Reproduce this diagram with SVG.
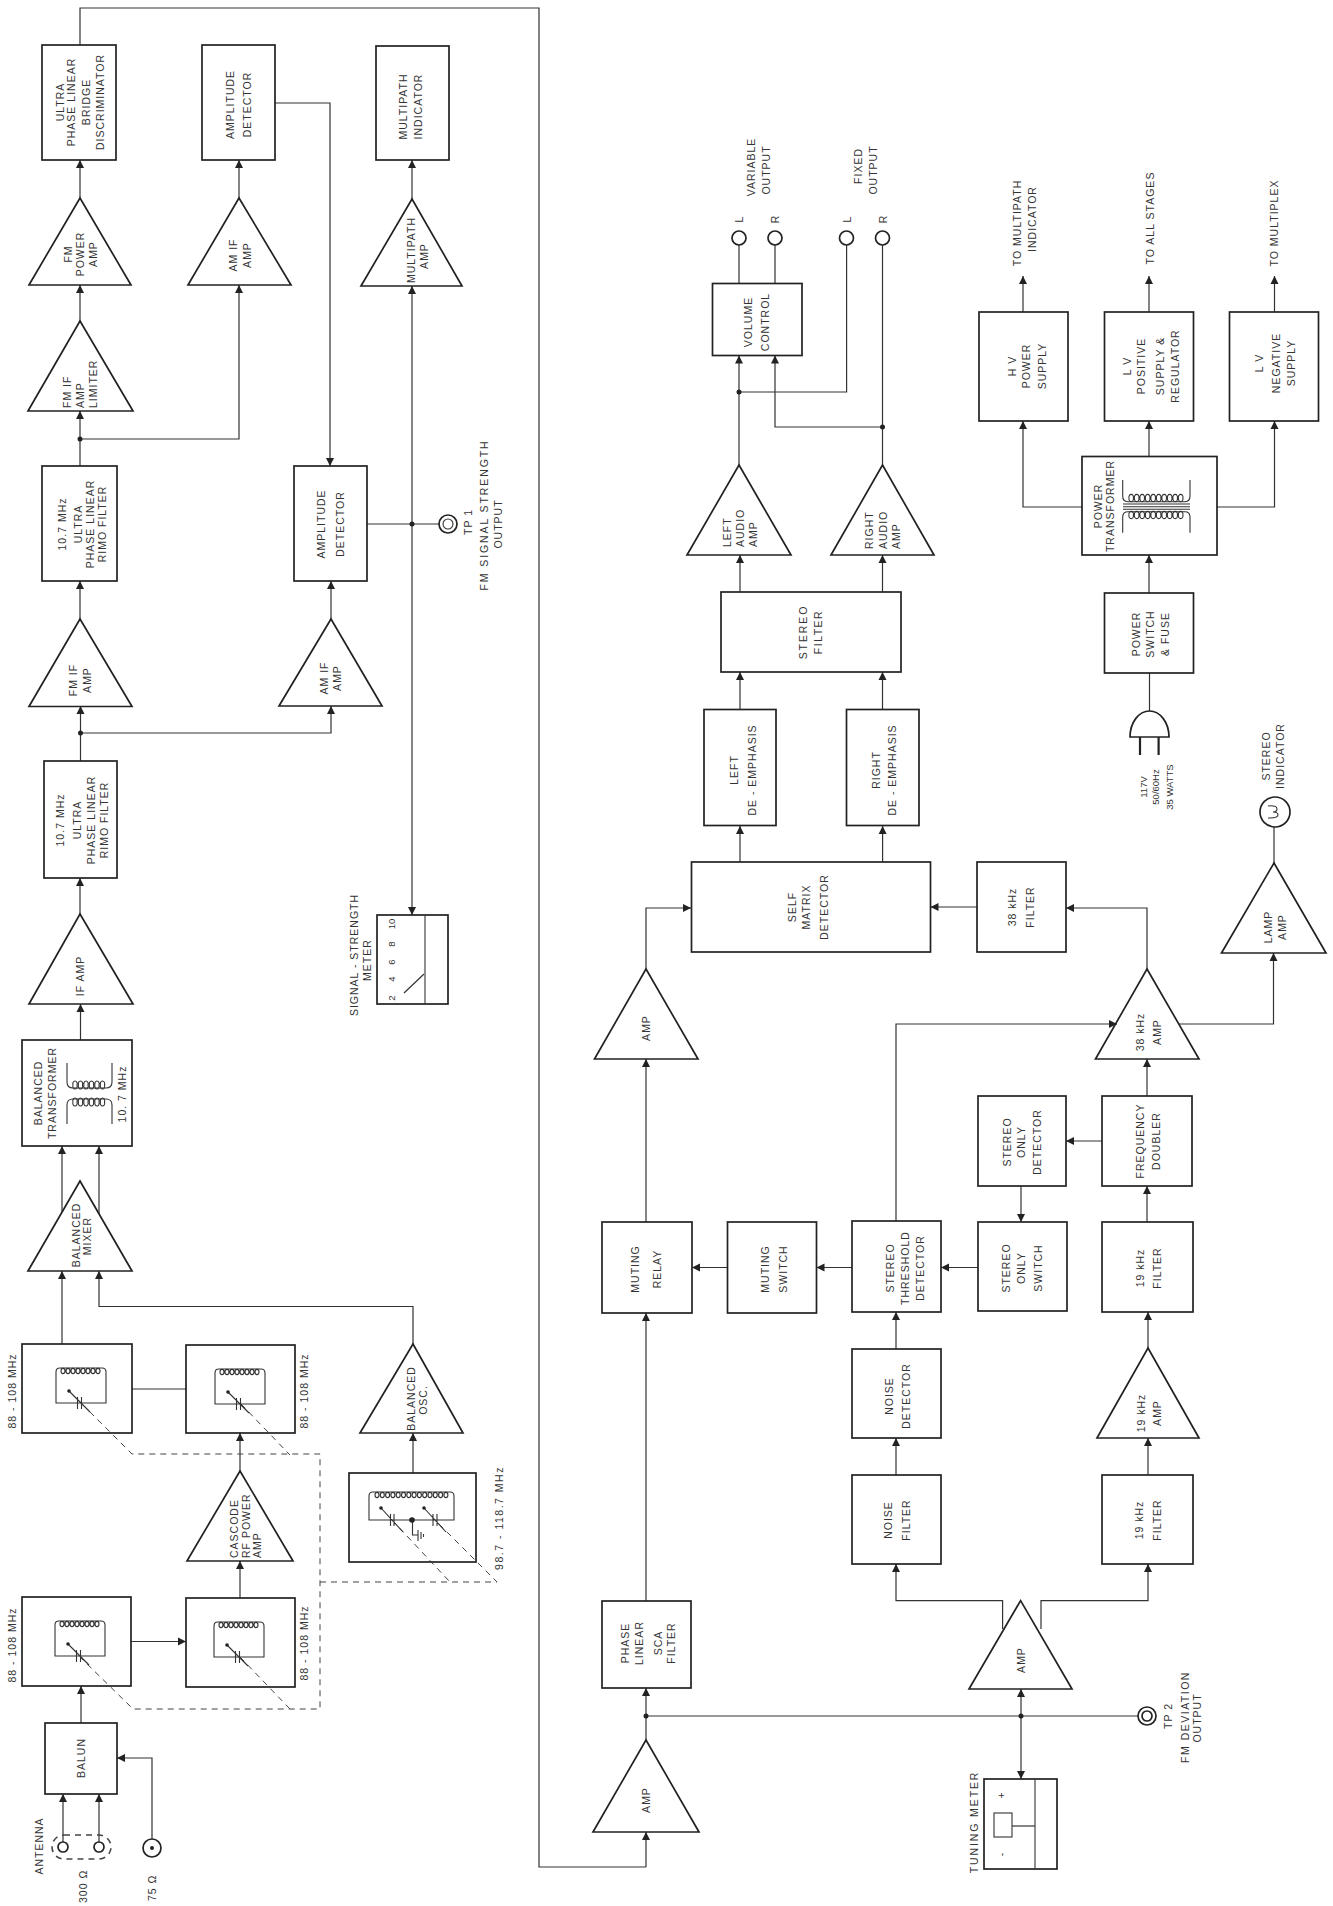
<svg xmlns="http://www.w3.org/2000/svg" xmlns:xlink="http://www.w3.org/1999/xlink" width="1333" height="1906" viewBox="0 0 1333 1906">
<style>
.b{fill:none;stroke:#222;stroke-width:1.7}
.w{fill:none;stroke:#333;stroke-width:1.1}
.c{fill:none;stroke:#333;stroke-width:1.2}
.a{marker-end:url(#ah)}
.d{fill:none;stroke:#444;stroke-width:1;stroke-dasharray:6 5}
.k{fill:#222;stroke:none}
text{font-family:"Liberation Sans",Arial,sans-serif;font-size:10.5px;letter-spacing:1px;fill:#333;text-anchor:middle}
text.s{text-anchor:start}
text.n{font-size:9.5px;letter-spacing:0}
text.l2{letter-spacing:1.9px}
text.l3{letter-spacing:1.5px}
</style>
<defs>
<marker id="ah" markerUnits="userSpaceOnUse" markerWidth="9" markerHeight="9" refX="8" refY="4.5" orient="auto"><path d="M0,0.500 L8,4.500 L0,8.500 Z" fill="#222"/></marker>
<path id="coil6" d="M0,0a2.2,2.8 0 1 0 4,0a2.2,2.8 0 1 0 -4,0m5.5,0a2.2,2.8 0 1 0 4,0a2.2,2.8 0 1 0 -4,0m5.5,0a2.2,2.8 0 1 0 4,0a2.2,2.8 0 1 0 -4,0m5.5,0a2.2,2.8 0 1 0 4,0a2.2,2.8 0 1 0 -4,0m5.5,0a2.2,2.8 0 1 0 4,0a2.2,2.8 0 1 0 -4,0m5.5,0a2.2,2.8 0 1 0 4,0a2.2,2.8 0 1 0 -4,0"/>
<path id="coil8" d="M5,4a2,2.6 0 1 0 4,0a2,2.6 0 1 0 -4,0m5,0a2,2.6 0 1 0 4,0a2,2.6 0 1 0 -4,0m5,0a2,2.6 0 1 0 4,0a2,2.6 0 1 0 -4,0m5,0a2,2.6 0 1 0 4,0a2,2.6 0 1 0 -4,0m5,0a2,2.6 0 1 0 4,0a2,2.6 0 1 0 -4,0m5,0a2,2.6 0 1 0 4,0a2,2.6 0 1 0 -4,0m5,0a2,2.6 0 1 0 4,0a2,2.6 0 1 0 -4,0m5,0a2,2.6 0 1 0 4,0a2,2.6 0 1 0 -4,0"/>
<path id="coil10" d="M0,0a2.3,2.8 0 1 0 4.4,0a2.3,2.8 0 1 0 -4.4,0m5.5,0a2.3,2.8 0 1 0 4.4,0a2.3,2.8 0 1 0 -4.4,0m5.5,0a2.3,2.8 0 1 0 4.4,0a2.3,2.8 0 1 0 -4.4,0m5.5,0a2.3,2.8 0 1 0 4.4,0a2.3,2.8 0 1 0 -4.4,0m5.5,0a2.3,2.8 0 1 0 4.4,0a2.3,2.8 0 1 0 -4.4,0m5.5,0a2.3,2.8 0 1 0 4.4,0a2.3,2.8 0 1 0 -4.4,0m5.5,0a2.3,2.8 0 1 0 4.4,0a2.3,2.8 0 1 0 -4.4,0m5.5,0a2.3,2.8 0 1 0 4.4,0a2.3,2.8 0 1 0 -4.4,0m5.5,0a2.3,2.8 0 1 0 4.4,0a2.3,2.8 0 1 0 -4.4,0m5.5,0a2.3,2.8 0 1 0 4.4,0a2.3,2.8 0 1 0 -4.4,0"/>
<g id="tank" class="w">
<path d="M0,36V5Q0,1 4,1H46Q50,1 50,5V36Z"/>
<use href="#coil8" xlink:href="#coil8"/>
<path d="M13,24L34,45M21.5,30V42M25.5,30V42"/>
<circle class="k" cx="13" cy="24" r="1.8"/>
</g>
</defs>

<g id="connectors">
<path class="c" d="M80,45V8H539V1867H646"/>
<path class="c a" d="M646,1867V1832"/>
<path class="c a" d="M80,198V160"/>
<path class="c a" d="M80,321V285"/>
<path class="c a" d="M80,466V411"/>
<path class="c a" d="M80,619V581"/>
<path class="c a" d="M80.5,761V706"/>
<path class="c a" d="M80,914V878"/>
<path class="c a" d="M80.5,1040V1004"/>
<path class="c a" d="M62,1212V1146"/>
<path class="c a" d="M99,1214V1146"/>
<path class="c a" d="M62,1344V1271"/>
<path class="c a" d="M413,1344V1306.5H99V1271"/>
<path class="c" d="M132,1389H186"/>
<path class="c a" d="M240,1471V1433"/>
<path class="c a" d="M240,1598V1561"/>
<path class="c a" d="M131,1641.500H186"/>
<path class="c a" d="M81,1723V1686"/>
<path class="c a" d="M63,1842V1794"/>
<path class="c a" d="M99,1842V1794"/>
<path class="c a" d="M152,1839V1758H117"/>
<path class="c a" d="M413,1473V1433"/>
<path class="c a" d="M80,439H239V285"/>
<path class="c a" d="M239,198V160"/>
<path class="c a" d="M275,103H330V466"/>
<path class="c a" d="M331,619V581"/>
<path class="c a" d="M80.500,733H331V706"/>
<path class="c" d="M367,524H439"/>
<path class="c a" d="M412,524V286"/>
<path class="c a" d="M412,524V915"/>
<path class="c a" d="M412,199V160"/>
<path class="c a" d="M646,1740V1688"/>
<path class="c" d="M646,1716H1138"/>
<path class="c a" d="M646,1601V1313"/>
<path class="c a" d="M646,1222V1059"/>
<path class="c a" d="M646,969V908H691"/>
<path class="c a" d="M727,1267.500H692"/>
<path class="c a" d="M852,1267.500H816.500"/>
<path class="c a" d="M978,1267.500H941"/>
<path class="c a" d="M896,1349V1312"/>
<path class="c a" d="M896,1475V1438"/>
<path class="c a" d="M1002.600,1629V1600.600H896V1564"/>
<path class="c a" d="M1041,1629V1600.600H1148V1564"/>
<path class="c a" d="M1021,1716V1689"/>
<path class="c a" d="M1021,1716V1779"/>
<path class="c a" d="M1148,1475V1438"/>
<path class="c a" d="M1148,1348V1312"/>
<path class="c a" d="M1147,1222V1186"/>
<path class="c a" d="M1147,1096V1059"/>
<path class="c a" d="M1102,1141H1066"/>
<path class="c a" d="M1021,1186V1222"/>
<path class="c a" d="M896,1221V1024H1117"/>
<path class="c a" d="M1147,969V908H1066"/>
<path class="c a" d="M977,907H930.500"/>
<path class="c a" d="M1179,1024H1273.500V953"/>
<path class="c" d="M1274,863V827"/>
<path class="c a" d="M740,862V826"/>
<path class="c a" d="M882.600,862V826"/>
<path class="c a" d="M740,709.500V672"/>
<path class="c a" d="M882.500,709.500V672"/>
<path class="c a" d="M740,592V555"/>
<path class="c a" d="M882.500,592V555"/>
<path class="c a" d="M739,465V355.500"/>
<path class="c" d="M882.500,465V245"/>
<path class="c" d="M739,392H846.600V245"/>
<path class="c a" d="M882.500,427H775V355.500"/>
<path class="c" d="M739,283V245M775,283V245"/>
<path class="c" d="M1149.500,711V673"/>
<path class="c a" d="M1149,593V555"/>
<path class="c a" d="M1149,456V421"/>
<path class="c a" d="M1082,507H1023V421"/>
<path class="c a" d="M1217,507H1274.500V421"/>
<path class="c a" d="M1023,312V276"/>
<path class="c a" d="M1149,312V276"/>
<path class="c a" d="M1274.500,312V276"/>
<path class="d" d="M82,1404L132,1454H320V1709H133L80,1657"/>
<path class="d" d="M241,1404L290,1455"/>
<path class="d" d="M240,1657L290,1709"/>
<path class="d" d="M320,1582H497L435,1520"/>
<path class="d" d="M392,1520L450,1582"/>
<circle class="k" cx="80" cy="439" r="2.500"/>
<circle class="k" cx="80.500" cy="733" r="2.500"/>
<circle class="k" cx="412" cy="524" r="2.500"/>
<circle class="k" cx="646" cy="1716" r="2.500"/>
<circle class="k" cx="1021" cy="1716" r="2.500"/>
<circle class="k" cx="739" cy="392" r="2.500"/>
<circle class="k" cx="882.500" cy="427" r="2.500"/>
</g>

<g id="ultra-discriminator"><rect class="b" x="42" y="45" width="74" height="115"/>
<text transform="translate(64,102)rotate(-90)">ULTRA</text><text transform="translate(75,102)rotate(-90)">PHASE LINEAR</text><text transform="translate(90,102)rotate(-90)">BRIDGE</text><text transform="translate(104,102)rotate(-90)">DISCRIMINATOR</text></g>
<g id="amp-det-1"><rect class="b" x="202" y="45" width="73" height="115"/>
<text transform="translate(234,104.500)rotate(-90)">AMPLITUDE</text><text transform="translate(251,104.500)rotate(-90)">DETECTOR</text></g>
<g id="multipath-ind"><rect class="b" x="376" y="46" width="73" height="114"/>
<text transform="translate(407,106.500)rotate(-90)">MULTIPATH</text><text transform="translate(422,106.500)rotate(-90)">INDICATOR</text></g>
<g id="fm-power-amp"><polygon class="b" points="80,198 131,285 29,285"/>
<text transform="translate(72,254)rotate(-90)">FM</text><text transform="translate(84,254)rotate(-90)">POWER</text><text transform="translate(96.500,254)rotate(-90)">AMP</text></g>
<g id="am-if-amp-1"><polygon class="b" points="239,198 291,285 188,285"/>
<text transform="translate(237,255)rotate(-90)">AM IF</text><text transform="translate(251,255)rotate(-90)">AMP</text></g>
<g id="multipath-amp"><polygon class="b" points="412,199 462,286 361,286"/>
<text transform="translate(415,250)rotate(-90)">MULTIPATH</text><text transform="translate(428,256)rotate(-90)">AMP</text></g>
<g id="fm-if-limiter"><polygon class="b" points="80,321 133,411 28,411"/>
<text class="s" transform="translate(70.500,408)rotate(-90)">FM IF</text><text class="s" transform="translate(84,408)rotate(-90)">AMP</text><text class="s" transform="translate(96.500,408)rotate(-90)">LIMITER</text></g>
<g id="rimo-1"><rect class="b" x="42" y="466" width="75" height="115"/>
<text transform="translate(66,524)rotate(-90)">10.7 MHz</text><text transform="translate(82,524)rotate(-90)">ULTRA</text><text transform="translate(94,524)rotate(-90)">PHASE LINEAR</text><text transform="translate(106,524)rotate(-90)">RIMO FILTER</text></g>
<g id="amp-det-2"><rect class="b" x="294" y="466" width="73" height="115"/>
<text transform="translate(325,524)rotate(-90)">AMPLITUDE</text><text transform="translate(344,524)rotate(-90)">DETECTOR</text></g>
<g id="tp1"><circle class="b" cx="448" cy="524" r="9"/><circle class="w" cx="448" cy="524" r="5"/>
<text transform="translate(472,522)rotate(-90)">TP 1</text><text class="l2" transform="translate(488,515)rotate(-90)">FM SIGNAL STRENGTH</text><text transform="translate(502,524)rotate(-90)">OUTPUT</text></g>
<g id="fm-if-amp"><polygon class="b" points="80,619 132,706.500 29,706.500"/>
<text transform="translate(77,680)rotate(-90)">FM IF</text><text transform="translate(91,680)rotate(-90)">AMP</text></g>
<g id="am-if-amp-2"><polygon class="b" points="331,619 382,706 279,706"/>
<text transform="translate(328,678)rotate(-90)">AM IF</text><text transform="translate(341,678)rotate(-90)">AMP</text></g>
<g id="rimo-2"><rect class="b" x="44" y="761" width="73" height="117"/>
<text transform="translate(64,820)rotate(-90)">10.7 MHz</text><text transform="translate(81,820)rotate(-90)">ULTRA</text><text transform="translate(95,820)rotate(-90)">PHASE LINEAR</text><text transform="translate(108,820)rotate(-90)">RIMO FILTER</text></g>
<g id="if-amp"><polygon class="b" points="80,914 133,1004 29,1004"/>
<text transform="translate(84,976)rotate(-90)">IF AMP</text></g>
<g id="signal-meter"><rect class="b" x="377" y="915" width="71" height="89"/>
<path class="w" d="M425,915V1004"/><path class="c" d="M424,974L404,993"/>
<text class="n" transform="translate(395,998)rotate(-90)">2</text><text class="n" transform="translate(395,979)rotate(-90)">4</text><text class="n" transform="translate(395,962)rotate(-90)">6</text><text class="n" transform="translate(395,944)rotate(-90)">8</text><text class="n" transform="translate(395,924)rotate(-90)">10</text>
<text transform="translate(358,955)rotate(-90)">SIGNAL - STRENGTH</text><text transform="translate(371,960)rotate(-90)">METER</text></g>
<g id="balanced-transformer"><rect class="b" x="22" y="1040" width="110" height="106"/>
<path class="w" d="M67,1063V1082Q67,1088 73,1088H106Q112,1088 112,1082V1063M67,1124V1105Q67,1099 73,1099H106Q112,1099 112,1105V1124"/>
<use class="w" href="#coil6" xlink:href="#coil6" transform="translate(73,1085)"/><use class="w" href="#coil6" xlink:href="#coil6" transform="translate(73,1102)"/>
<text transform="translate(42,1093)rotate(-90)">BALANCED</text><text transform="translate(56,1093)rotate(-90)">TRANSFORMER</text><text transform="translate(126,1094)rotate(-90)">10. 7 MHz</text></g>
<g id="balanced-mixer"><polygon class="b" points="80,1181 132,1271 28,1271"/>
<text transform="translate(80,1235)rotate(-90)">BALANCED</text><text transform="translate(91,1236)rotate(-90)">MIXER</text></g>
<g id="rf-tank-1"><rect class="b" x="22" y="1344" width="110" height="89"/><use href="#tank" xlink:href="#tank" x="56" y="1367"/>
<text transform="translate(16,1391)rotate(-90)">88 - 108 MHz</text></g>
<g id="rf-tank-2"><rect class="b" x="186" y="1345" width="109" height="88"/><use href="#tank" xlink:href="#tank" x="215" y="1368"/>
<text transform="translate(308,1391)rotate(-90)">88 - 108 MHz</text></g>
<g id="balanced-osc"><polygon class="b" points="413,1344 463,1433 360,1433"/>
<text transform="translate(415,1398.500)rotate(-90)">BALANCED</text><text transform="translate(427,1400)rotate(-90)">OSC.</text></g>
<g id="cascode"><polygon class="b" points="240,1471 293,1561 187,1561"/>
<text class="s" transform="translate(238,1558)rotate(-90)">CASCODE</text><text class="s" transform="translate(250,1558)rotate(-90)">RF POWER</text><text class="s" transform="translate(261,1558)rotate(-90)">AMP</text></g>
<g id="osc-tank"><rect class="b" x="349" y="1473" width="127" height="89"/>
<path class="w" d="M369,1520V1496Q369,1492 373,1492H450Q454,1492 454,1496V1520Z"/>
<path class="w" d="M375,1495a2,2.600 0 1 0 4,0a2,2.600 0 1 0 -4,0m5.300,0a2,2.600 0 1 0 4,0a2,2.600 0 1 0 -4,0m5.300,0a2,2.600 0 1 0 4,0a2,2.600 0 1 0 -4,0m5.300,0a2,2.600 0 1 0 4,0a2,2.600 0 1 0 -4,0m5.300,0a2,2.600 0 1 0 4,0a2,2.600 0 1 0 -4,0m5.300,0a2,2.600 0 1 0 4,0a2,2.600 0 1 0 -4,0m5.300,0a2,2.600 0 1 0 4,0a2,2.600 0 1 0 -4,0m5.300,0a2,2.600 0 1 0 4,0a2,2.600 0 1 0 -4,0m5.300,0a2,2.600 0 1 0 4,0a2,2.600 0 1 0 -4,0m5.300,0a2,2.600 0 1 0 4,0a2,2.600 0 1 0 -4,0m5.300,0a2,2.600 0 1 0 4,0a2,2.600 0 1 0 -4,0m5.300,0a2,2.600 0 1 0 4,0a2,2.600 0 1 0 -4,0m5.300,0a2,2.600 0 1 0 4,0a2,2.600 0 1 0 -4,0m5.300,0a2,2.600 0 1 0 4,0a2,2.600 0 1 0 -4,0"/>
<path class="w" d="M381,1508L403,1532M390.500,1514V1526M394,1514V1526M424,1508L446,1532M433,1514V1526M437,1514V1526M412.500,1520V1535H418M418,1530V1541M421,1532V1539M423.500,1534V1537"/>
<circle class="k" cx="412" cy="1520" r="2.800"/><circle class="k" cx="381" cy="1508" r="1.800"/><circle class="k" cx="424" cy="1508" r="1.800"/>
<text class="l3" transform="translate(503,1518)rotate(-90)">98.7 - 118.7 MHz</text></g>
<g id="rf-tank-4"><rect class="b" x="22" y="1597" width="109" height="89"/><use href="#tank" xlink:href="#tank" x="55" y="1620"/>
<text transform="translate(16,1645)rotate(-90)">88 - 108 MHz</text></g>
<g id="rf-tank-3"><rect class="b" x="186" y="1598" width="109" height="89"/><use href="#tank" xlink:href="#tank" x="214" y="1621"/>
<text transform="translate(308,1643)rotate(-90)">88 - 108 MHz</text></g>
<g id="balun"><rect class="b" x="45" y="1723" width="72" height="71"/>
<text transform="translate(85,1758)rotate(-90)">BALUN</text></g>
<g id="antenna"><rect class="d" style="stroke-width:1.6" x="52" y="1835" width="59" height="24" rx="12"/><circle class="b" cx="63" cy="1847" r="5"/><circle class="b" cx="99" cy="1847" r="5"/>
<text transform="translate(43,1846)rotate(-90)">ANTENNA</text><text class="s" transform="translate(87,1903)rotate(-90)">300 Ω</text></g>
<g id="coax-75"><circle class="b" cx="152" cy="1848" r="9"/><circle class="k" cx="152" cy="1848" r="2"/>
<text class="s" transform="translate(156,1901)rotate(-90)">75 Ω</text></g>

<g id="amp-3"><polygon class="b" points="646,1740 699,1832 593,1832"/><text transform="translate(650,1800)rotate(-90)">AMP</text></g>
<g id="phase-linear-sca"><rect class="b" x="602" y="1601" width="89" height="87"/>
<text transform="translate(629,1643)rotate(-90)">PHASE</text><text transform="translate(643,1643)rotate(-90)">LINEAR</text><text transform="translate(662,1643)rotate(-90)">SCA</text><text transform="translate(675,1643)rotate(-90)">FILTER</text></g>
<g id="muting-relay"><rect class="b" x="602" y="1222" width="90" height="91"/>
<text transform="translate(639,1269)rotate(-90)">MUTING</text><text transform="translate(660.500,1269)rotate(-90)">RELAY</text></g>
<g id="muting-switch"><rect class="b" x="727.500" y="1222" width="89" height="91"/>
<text transform="translate(769,1269)rotate(-90)">MUTING</text><text transform="translate(787,1269)rotate(-90)">SWITCH</text></g>
<g id="stereo-threshold"><rect class="b" x="852" y="1221" width="89" height="91"/>
<text transform="translate(894,1268)rotate(-90)">STEREO</text><text transform="translate(909,1268)rotate(-90)">THRESHOLD</text><text transform="translate(924,1268)rotate(-90)">DETECTOR</text></g>
<g id="stereo-only-switch"><rect class="b" x="978" y="1222" width="89" height="89"/>
<text transform="translate(1010,1268)rotate(-90)">STEREO</text><text transform="translate(1025,1268)rotate(-90)">ONLY</text><text transform="translate(1042,1268)rotate(-90)">SWITCH</text></g>
<g id="filter-19-2"><rect class="b" x="1102" y="1222" width="91" height="90"/>
<text transform="translate(1144,1268)rotate(-90)">19 kHz</text><text transform="translate(1161,1268)rotate(-90)">FILTER</text></g>
<g id="noise-detector"><rect class="b" x="852" y="1349" width="89" height="89"/>
<text transform="translate(893,1396)rotate(-90)">NOISE</text><text transform="translate(909.500,1396)rotate(-90)">DETECTOR</text></g>
<g id="noise-filter"><rect class="b" x="852" y="1475" width="89" height="89"/>
<text transform="translate(892,1520)rotate(-90)">NOISE</text><text transform="translate(909.500,1520)rotate(-90)">FILTER</text></g>
<g id="filter-19-1"><rect class="b" x="1102" y="1475" width="91" height="89"/>
<text transform="translate(1143,1520)rotate(-90)">19 kHz</text><text transform="translate(1160.500,1520)rotate(-90)">FILTER</text></g>
<g id="amp-19"><polygon class="b" points="1148,1348 1199,1438 1097,1438"/>
<text transform="translate(1145,1413)rotate(-90)">19 kHz</text><text transform="translate(1160.500,1413)rotate(-90)">AMP</text></g>
<g id="amp-mid"><polygon class="b" points="1020.600,1600.600 1072,1689 969,1689"/><text transform="translate(1024.600,1660)rotate(-90)">AMP</text></g>
<g id="tp2"><circle class="b" cx="1147" cy="1716" r="9"/><circle class="b" cx="1147" cy="1716" r="5"/>
<text transform="translate(1172,1716)rotate(-90)">TP 2</text><text class="l3" transform="translate(1189,1717)rotate(-90)">FM DEVIATION</text><text transform="translate(1201,1718)rotate(-90)">OUTPUT</text></g>
<g id="tuning-meter"><rect class="b" x="984" y="1779" width="73" height="90"/>
<path class="w" d="M1035,1779V1869"/><rect class="w" x="994" y="1813" width="18" height="24"/><path class="c" d="M1012,1826H1035"/>
<text transform="translate(1005,1795)rotate(-90)">+</text><text transform="translate(1005,1854)rotate(-90)">-</text>
<text class="l2" transform="translate(978,1822)rotate(-90)">TUNING METER</text></g>

<g id="self-matrix"><rect class="b" x="691.500" y="862" width="239" height="90"/>
<text transform="translate(795.500,907)rotate(-90)">SELF</text><text transform="translate(810,907)rotate(-90)">MATRIX</text><text transform="translate(827.500,907)rotate(-90)">DETECTOR</text></g>
<g id="filter-38"><rect class="b" x="977" y="862" width="89" height="90"/>
<text transform="translate(1016,907)rotate(-90)">38 kHz</text><text transform="translate(1033.500,907)rotate(-90)">FILTER</text></g>
<g id="amp-2"><polygon class="b" points="646,969 698,1059 594.500,1059"/><text transform="translate(650,1028)rotate(-90)">AMP</text></g>
<g id="amp-38"><polygon class="b" points="1147,969 1199,1059 1095.500,1059"/>
<text transform="translate(1144,1032)rotate(-90)">38 kHz</text><text transform="translate(1161,1032)rotate(-90)">AMP</text></g>
<g id="lamp-amp"><polygon class="b" points="1274,863 1326,953 1221.500,953"/>
<text transform="translate(1272,927)rotate(-90)">LAMP</text><text transform="translate(1286,927)rotate(-90)">AMP</text></g>
<g id="stereo-indicator"><circle class="b" cx="1275" cy="812" r="15"/>
<path class="w" d="M1268,806q9,-1 9,3q0,3 -4,3q5,0 5,3q0,3 -10,3"/>
<text transform="translate(1270,756)rotate(-90)">STEREO</text><text transform="translate(1284,756)rotate(-90)">INDICATOR</text></g>
<g id="frequency-doubler"><rect class="b" x="1102" y="1096" width="90" height="90"/>
<text transform="translate(1144,1141)rotate(-90)">FREQUENCY</text><text transform="translate(1160,1141)rotate(-90)">DOUBLER</text></g>
<g id="stereo-only-detector"><rect class="b" x="978" y="1096" width="88" height="90"/>
<text transform="translate(1011,1142)rotate(-90)">STEREO</text><text transform="translate(1024.600,1142)rotate(-90)">ONLY</text><text transform="translate(1041,1142)rotate(-90)">DETECTOR</text></g>
<g id="left-deemph"><rect class="b" x="704" y="709.500" width="72" height="116"/>
<text transform="translate(738,770)rotate(-90)">LEFT</text><text transform="translate(755.500,770)rotate(-90)">DE - EMPHASIS</text></g>
<g id="right-deemph"><rect class="b" x="846.500" y="709.500" width="72.500" height="116"/>
<text transform="translate(880,770)rotate(-90)">RIGHT</text><text transform="translate(896,770)rotate(-90)">DE - EMPHASIS</text></g>
<g id="stereo-filter"><rect class="b" x="721" y="592" width="180" height="80"/>
<text class="l2" transform="translate(807,632)rotate(-90)">STEREO</text><text class="l3" transform="translate(822,632)rotate(-90)">FILTER</text></g>
<g id="left-audio"><polygon class="b" points="739,465 791,555 687,555"/>
<text class="s" transform="translate(731,547)rotate(-90)">LEFT</text><text class="s" transform="translate(743.500,547)rotate(-90)">AUDIO</text><text class="s" transform="translate(757,547)rotate(-90)">AMP</text></g>
<g id="right-audio"><polygon class="b" points="882.500,465 934,555 831,555"/>
<text class="s" transform="translate(873,549)rotate(-90)">RIGHT</text><text class="s" transform="translate(886.500,549)rotate(-90)">AUDIO</text><text class="s" transform="translate(900,549)rotate(-90)">AMP</text></g>
<g id="volume-control"><rect class="b" x="712.500" y="283.500" width="89.500" height="72"/>
<text transform="translate(752,322)rotate(-90)">VOLUME</text><text transform="translate(769,322)rotate(-90)">CONTROL</text></g>
<g id="outputs"><circle class="b" cx="739" cy="238" r="7"/><circle class="b" cx="775" cy="238" r="7"/><circle class="b" cx="846.500" cy="238" r="7"/><circle class="b" cx="882.500" cy="238" r="7"/>
<text transform="translate(743,219)rotate(-90)">L</text><text transform="translate(779,219)rotate(-90)">R</text><text transform="translate(850.500,219)rotate(-90)">L</text><text transform="translate(886.500,219)rotate(-90)">R</text>
<text transform="translate(754.500,167)rotate(-90)">VARIABLE</text><text transform="translate(770,170)rotate(-90)">OUTPUT</text><text transform="translate(861.700,166)rotate(-90)">FIXED</text><text transform="translate(877,170)rotate(-90)">OUTPUT</text></g>
<g id="hv-supply"><rect class="b" x="979" y="312" width="89" height="109"/>
<text transform="translate(1016,366)rotate(-90)">H V</text><text transform="translate(1030,366)rotate(-90)">POWER</text><text transform="translate(1046,366)rotate(-90)">SUPPLY</text>
<text transform="translate(1021,223)rotate(-90)">TO MULTIPATH</text><text transform="translate(1035.600,219)rotate(-90)">INDICATOR</text></g>
<g id="lv-positive"><rect class="b" x="1104.500" y="312" width="89" height="109"/>
<text transform="translate(1131,366)rotate(-90)">L V</text><text transform="translate(1145,366)rotate(-90)">POSITIVE</text><text transform="translate(1164,366)rotate(-90)">SUPPLY &amp;</text><text transform="translate(1178.500,366)rotate(-90)">REGULATOR</text>
<text transform="translate(1154,218)rotate(-90)">TO ALL STAGES</text></g>
<g id="lv-negative"><rect class="b" x="1229.500" y="312" width="89" height="109"/>
<text transform="translate(1263,363)rotate(-90)">L V</text><text transform="translate(1280,363)rotate(-90)">NEGATIVE</text><text transform="translate(1295,363)rotate(-90)">SUPPLY</text>
<text transform="translate(1278,223)rotate(-90)">TO MULTIPLEX</text></g>
<g id="power-transformer"><rect class="b" x="1082" y="456.500" width="135" height="98.500"/>
<path class="w" d="M1122.700,480V496Q1122.700,501.700 1128,501.700H1185Q1190,501.700 1190,496V480M1122.700,532.700V517Q1122.700,511.700 1128,511.700H1185Q1190,511.700 1190,517V532.700M1123,504H1190M1123,506.700H1190M1123,509.300H1190"/>
<use class="w" href="#coil10" xlink:href="#coil10" transform="translate(1129,498)"/><use class="w" href="#coil10" xlink:href="#coil10" transform="translate(1129,515)"/>
<text transform="translate(1102,506)rotate(-90)">POWER</text><text transform="translate(1114,506)rotate(-90)">TRANSFORMER</text></g>
<g id="power-switch"><rect class="b" x="1104.500" y="593" width="89" height="80"/>
<text transform="translate(1139.600,634)rotate(-90)">POWER</text><text transform="translate(1154,634)rotate(-90)">SWITCH</text><text transform="translate(1169,634)rotate(-90)">&amp; FUSE</text></g>
<g id="plug"><path class="b" d="M1130,737A19.500,26 0 0 1 1169,737Z"/><path class="b" style="stroke-width:2.200" d="M1140,737V755M1158.600,737V755"/>
<text class="n" transform="translate(1147,787)rotate(-90)">117V</text><text class="n" transform="translate(1159,787)rotate(-90)">50/60Hz</text><text class="n" transform="translate(1173,787)rotate(-90)">35 WATTS</text></g>
</svg>
